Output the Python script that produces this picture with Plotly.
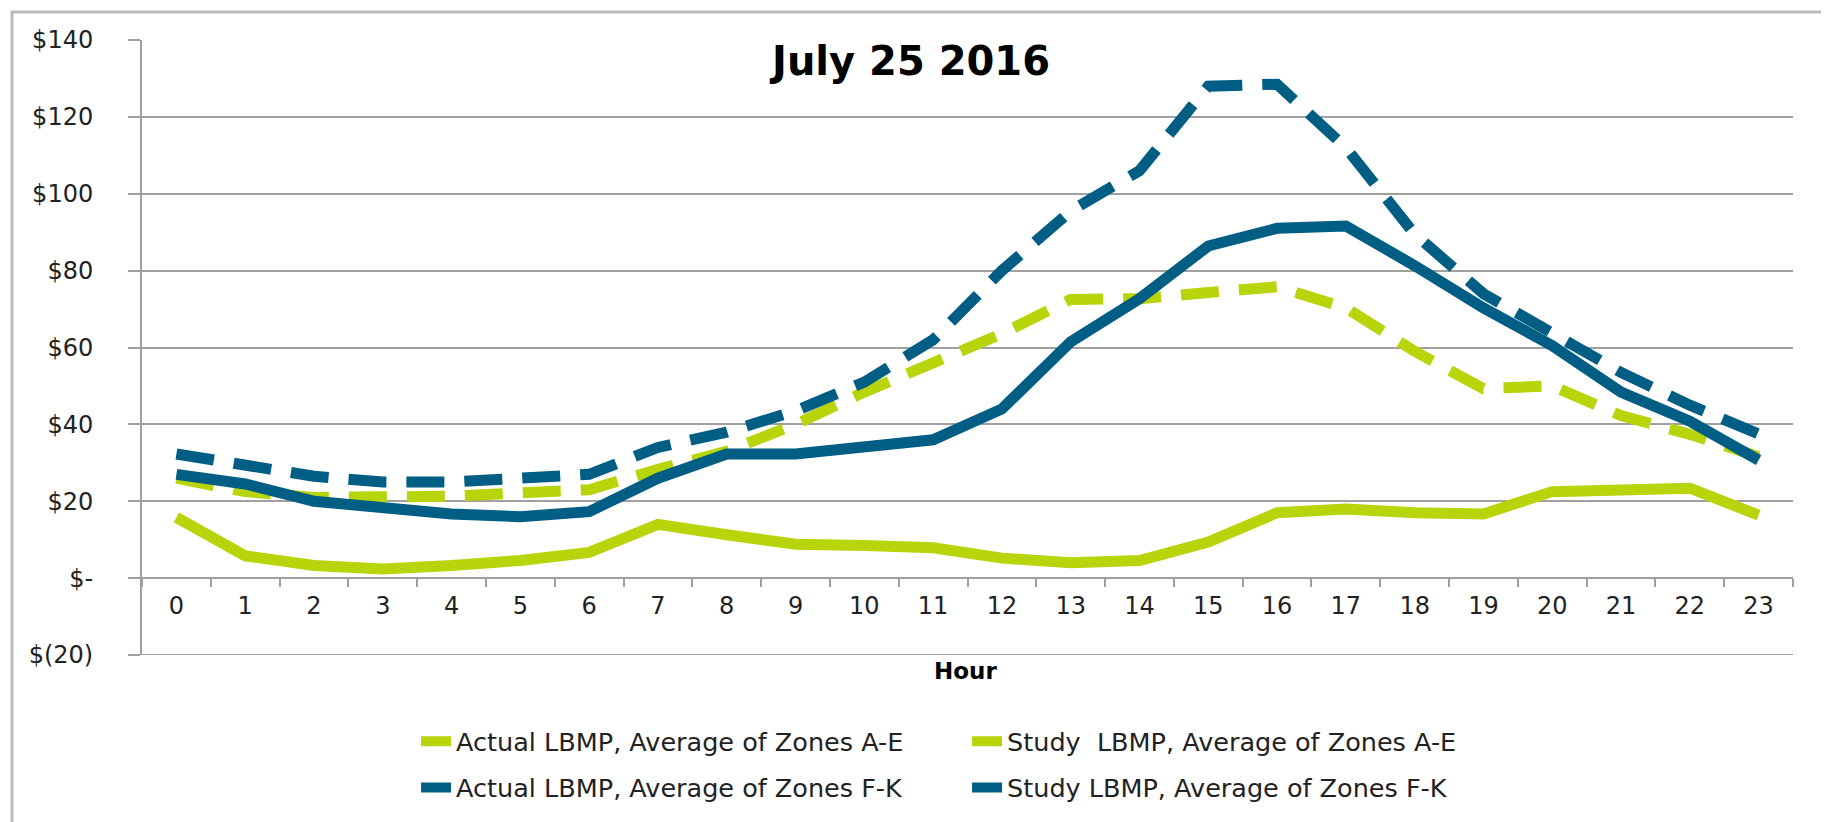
import plotly.graph_objects as go

# hourly LBMP values, July 25 2016
hours = [str(h) for h in range(24)]

actual_ae = [26, 22.5, 21, 21, 21.3, 22.2, 23, 28.3, 33, 40, 48.4, 56,
             63.6, 72.5, 72.7, 74.3, 75.8, 70.3, 59, 49.3, 50, 42.3, 37.4, 31.6]
study_ae = [15.8, 5.8, 3.3, 2.4, 3.3, 4.6, 6.7, 14, 11.3, 8.8, 8.5, 7.9,
            5.2, 4, 4.6, 9.4, 17, 18, 17, 16.7, 22.5, 23.1, 23.4, 16.4]
actual_fk = [32.3, 29.5, 26.5, 25, 25, 26, 27, 34, 38, 43.5, 51, 62,
             80, 95.5, 106, 128, 128.5, 112, 89.5, 74, 64, 53.5, 45, 37.5]
study_fk = [27, 24.5, 20, 18, 16.7, 16, 17.3, 26, 32.3, 32.3, 33.8, 36,
            44, 61.5, 72.7, 86.4, 91, 91.6, 81.3, 70.3, 60.5, 48.4, 40.8, 30.7]

y_ticks = [-20, 0, 20, 40, 60, 80, 100, 120, 140]
y_labels = ["$(20)", "$-", "$20", "$40", "$60", "$80", "$100", "$120", "$140"]

GREEN = "#B8D40A"
BLUE = "#005E84"
GRID = "#A0A0A0"
FONT = "DejaVu Sans"

fig = go.Figure()
fig.add_trace(go.Scatter(x=hours, y=actual_ae, mode="lines", name="Actual LBMP, Average of Zones A-E",
                         line=dict(color=GREEN, width=11, dash="38px,20px"), legend="legend"))
fig.add_trace(go.Scatter(x=hours, y=study_ae, mode="lines", name="Study  LBMP, Average of Zones A-E",
                         line=dict(color=GREEN, width=11), legend="legend"))
fig.add_trace(go.Scatter(x=hours, y=actual_fk, mode="lines", name="Actual LBMP, Average of Zones F-K",
                         line=dict(color=BLUE, width=11, dash="38px,20px"), legend="legend2"))
fig.add_trace(go.Scatter(x=hours, y=study_fk, mode="lines", name="Study LBMP, Average of Zones F-K",
                         line=dict(color=BLUE, width=11), legend="legend2"))

legend_style = dict(orientation="h", xanchor="left", yanchor="middle", x=0.166,
                    entrywidth=506, entrywidthmode="pixels", traceorder="normal",
                    font=dict(family=FONT, size=25.5, color="#222222"), bgcolor="rgba(0,0,0,0)")

fig.update_layout(
    width=1829, height=822,
    margin=dict(l=134, r=44, t=32, b=175),
    plot_bgcolor="white", paper_bgcolor="white",
    font=dict(family=FONT, size=24, color="#222222"),
    xaxis=dict(type="category", tickson="boundaries", ticks="outside", ticklen=8, tickwidth=2,
               tickcolor=GRID, showline=True, linecolor=GRID, linewidth=2, showgrid=False,
               anchor="free", position=0.125, ticklabelstandoff=6, range=[-0.5, 23.5]),
    yaxis=dict(range=[-20, 140], tickvals=y_ticks, ticktext=y_labels, ticks="outside", ticklen=12,
               tickwidth=2, tickcolor=GRID, showline=True, linecolor=GRID, linewidth=2,
               gridcolor=GRID, gridwidth=2, zeroline=False, ticklabelstandoff=30),
    legend=dict(legend_style, y=-0.141),
    legend2=dict(legend_style, y=-0.216),
    annotations=[
        dict(text="<b>July 25 2016</b>", x=0.465, y=0.966, xref="paper", yref="paper",
             xanchor="center", yanchor="middle", showarrow=False,
             font=dict(family=FONT, size=40, color="black")),
        dict(text="<b>Hour</b>", x=0.4985, y=-0.026, xref="paper", yref="paper",
             xanchor="center", yanchor="middle", showarrow=False,
             font=dict(family=FONT, size=23, color="black")),
    ],
    shapes=[
        dict(type="rect", xref="paper", yref="paper", x0=-130 / 1651, x1=1688 / 1651,
             y0=-2, y1=643 / 615, line=dict(color="#BBBBBB", width=3), layer="below"),
        dict(type="line", xref="paper", yref="y", x0=-12 / 1651, x1=1, y0=-20, y1=-20,
             line=dict(color=GRID, width=2), layer="below"),
    ],
)

fig.write_html("out.html")
